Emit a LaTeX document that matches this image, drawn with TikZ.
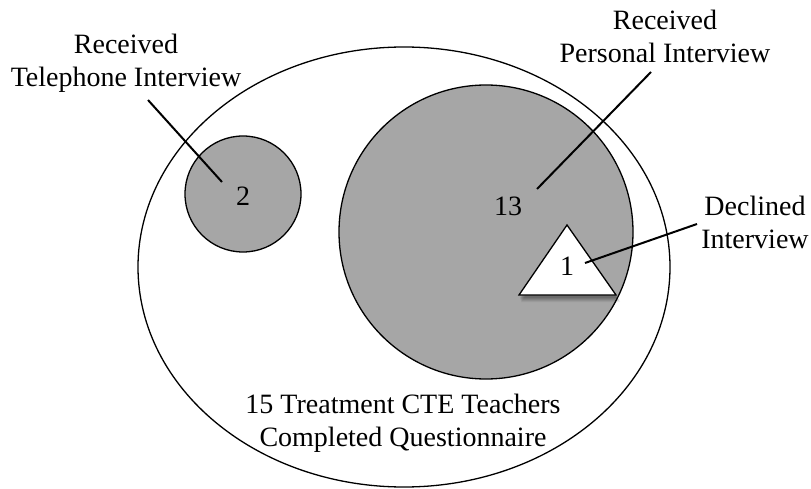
\documentclass[tikz,border=0pt]{standalone}
\usepackage{fontspec}
\setmainfont{Liberation Serif}
\usetikzlibrary{shadows,shapes.geometric}
\definecolor{fillgray}{RGB}{166,166,166}
\begin{document}
\begin{tikzpicture}[x=1pt,y=-1pt,
  lbl/.style={font=\fontsize{28}{33}\selectfont, align=center, inner sep=0pt},
  num/.style={font=\fontsize{28}{33}\selectfont, inner sep=0pt},
  outline/.style={draw=black, line width=1.3pt},
  conn/.style={draw=black, line width=2pt}]
\useasboundingbox (0,0) rectangle (811,489);
\fill[white] (0,0) rectangle (811,489);
% outer ellipse
\draw[outline] (404,267) ellipse [x radius=266, y radius=220];
% small circle
\draw[outline, fill=fillgray] (243,194) circle [radius=58];
% big circle
\draw[outline, fill=fillgray] (486,232) circle [radius=147];
% triangle with soft shadow
\foreach \d/\o in {7/0.06,6/0.07,5/0.08,4/0.09,3/0.1} {
  \fill[black, opacity=\o] (567+\d*0.3,225+\d) -- (616+\d*0.6,295+\d) -- (519+\d*0.3,295+\d) -- cycle;
}
\draw[black, line width=1.3pt, fill=white, line join=miter] (567,225) -- (616,295) -- (519,295) -- cycle;
% numbers
\node[num] (n2) at (243,196) {2};
\node[num] (n13) at (508,206) {13};
\node[num] (n1) at (567,266) {1};
% labels
\node[lbl] (tel) at (126,63) {Received\\Telephone Interview};
\node[lbl] (per) at (665,36) {Received\\Personal Interview};
\node[lbl] (dec) at (755,222) {Declined\\Interview};
\node[lbl] (tot) at (403,423) {15 Treatment CTE Teachers\\Completed Questionnaire};
% connector endpoints
\coordinate (t1) at (148,100);
\coordinate (t2) at (222,182);
\coordinate (p1) at (651,72);
\coordinate (p2) at (537,189);
\coordinate (d1) at (697,224);
\coordinate (d2) at (585,263);
\draw[conn] (t1) -- (t2);
\draw[conn] (p1) -- (p2);
\draw[conn] (d1) -- (d2);
\end{tikzpicture}
\end{document}
